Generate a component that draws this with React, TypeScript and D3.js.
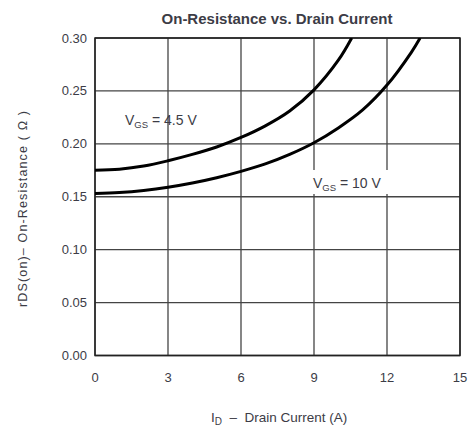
import React from "react";
import * as d3 from "d3";

const xTicks = [0, 3, 6, 9, 12, 15];
const yTicks = [0, 0.05, 0.1, 0.15, 0.2, 0.25, 0.3];

const vgs45X = [0, 1, 2, 3, 4, 5, 6, 7, 8, 9, 10, 10.55];
const vgs45Y = [0.175, 0.176, 0.179, 0.184, 0.19, 0.197, 0.206, 0.217, 0.231, 0.251, 0.279, 0.3];

const vgs10X = [0, 1, 2, 3, 4, 5, 6, 7, 8, 9, 10, 11, 12, 13, 13.36];
const vgs10Y = [0.153, 0.154, 0.156, 0.159, 0.163, 0.168, 0.174, 0.181, 0.19, 0.201, 0.215, 0.232, 0.2555, 0.2865, 0.3];

export default function App() {
  const W = 471, H = 428;
  const left = 95, right = 460, top = 38, bottom = 355.5;
  const x = d3.scaleLinear().domain([0, 15]).range([left, right]);
  const y = d3.scaleLinear().domain([0, 0.3]).range([bottom, top]);
  const line = d3.line<[number, number]>().x(d => x(d[0])).y(d => y(d[1])).curve(d3.curveCatmullRom);
  const p45 = line(vgs45X.map((v, i) => [v, vgs45Y[i]] as [number, number])) || "";
  const p10 = line(vgs10X.map((v, i) => [v, vgs10Y[i]] as [number, number])) || "";
  const font = "Liberation Sans, Arial, sans-serif";
  const txt = "#3c3c46";
  return (
    <svg width={W} height={H} style={{ position: "absolute", left: 0, top: 0 }} fontFamily={font}>
      <rect width={W} height={H} fill="#fff" />
      <text x={277} y={24} textAnchor="middle" fontSize={15} fontWeight="bold" fill={txt}>
        On-Resistance vs. Drain Current
      </text>
      <defs>
        <clipPath id="pc">
          <rect x={left} y={top} width={right - left} height={bottom - top} />
        </clipPath>
      </defs>
      {xTicks.map(t => (
        <line key={"gx" + t} x1={x(t)} x2={x(t)} y1={top} y2={bottom} stroke="#444" strokeWidth={1.3} />
      ))}
      {yTicks.map(t => (
        <line key={"gy" + t} x1={left} x2={right} y1={y(t)} y2={y(t)} stroke="#444" strokeWidth={1.3} />
      ))}
      <rect x={left} y={top} width={right - left} height={bottom - top} fill="none" stroke="#222" strokeWidth={1.5} />
      <rect x={312} y={170} width={77} height={24} fill="#fff" />
      <g clipPath="url(#pc)">
        <path d={p45} fill="none" stroke="#000" strokeWidth={3} />
        <path d={p10} fill="none" stroke="#000" strokeWidth={3} />
      </g>
      <text x={125} y={125} fontSize={14} fill={txt}>
        V<tspan fontSize={9.5} dy={3}>GS</tspan><tspan dy={-3}> = 4.5 V</tspan>
      </text>
      <text x={313} y={188} fontSize={14} fill={txt}>
        V<tspan fontSize={9.5} dy={3}>GS</tspan><tspan dy={-3}> = 10 V</tspan>
      </text>
      {yTicks.map(t => (
        <text key={"ty" + t} x={87} y={y(t) + 4.5} textAnchor="end" fontSize={13} fill={txt}>
          {t.toFixed(2)}
        </text>
      ))}
      {xTicks.map(t => (
        <text key={"tx" + t} x={x(t)} y={382} textAnchor="middle" fontSize={13} fill={txt}>
          {t}
        </text>
      ))}
      <text x={211} y={422} fontSize={13.5} fill={txt}>
        I<tspan fontSize={10} dy={3}>D</tspan><tspan dy={-3}>{"\u00a0\u00a0–\u00a0\u00a0Drain Current (A)"}</tspan>
      </text>
      <text transform={`translate(27,209) rotate(-90)`} textAnchor="middle" fontSize={12.5} fill={txt}
        textLength={196} lengthAdjust="spacing">
        rDS(on)– On-Resistance ( Ω )
      </text>
    </svg>
  );
}
